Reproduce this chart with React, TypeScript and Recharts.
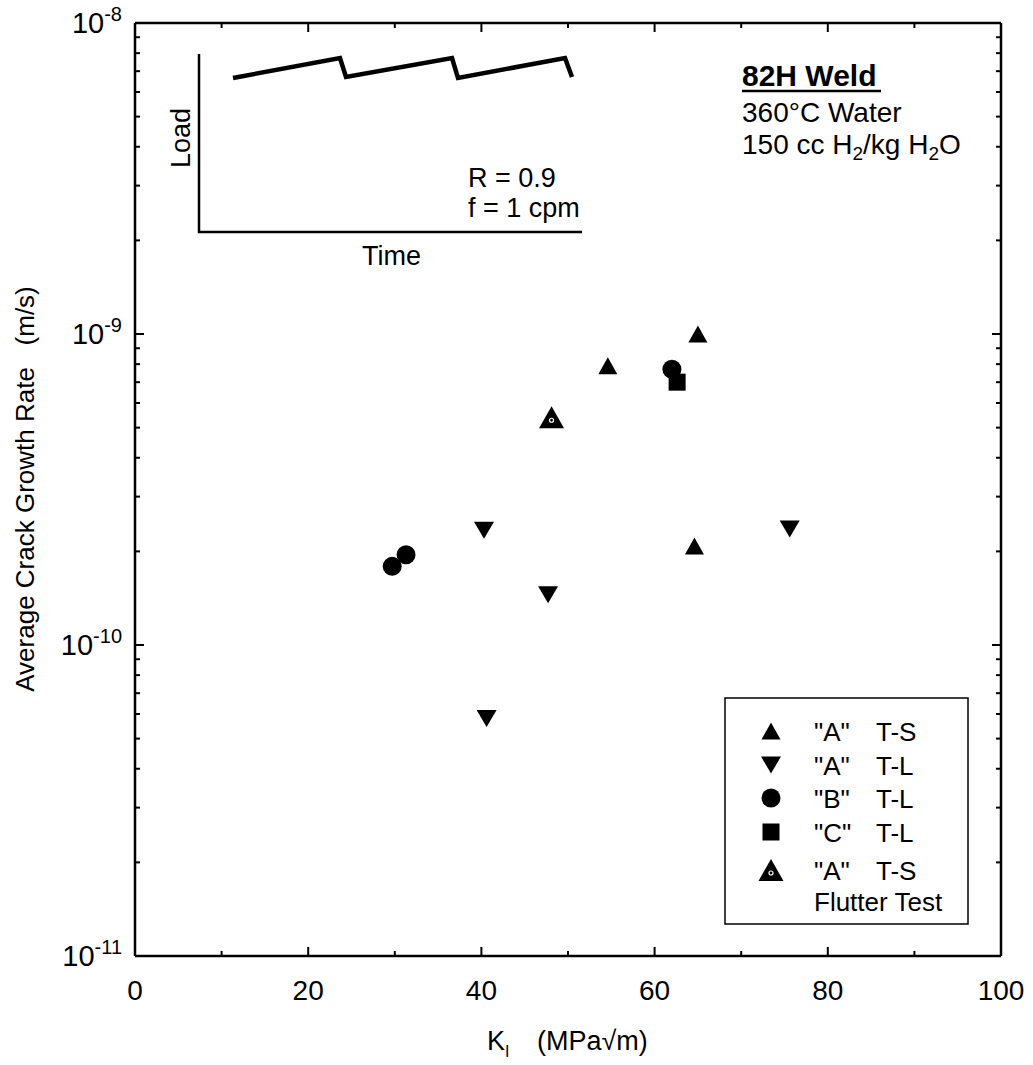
import React from "react";
import { ScatterChart, Scatter, XAxis, YAxis, Legend, Customized } from "recharts";

const W = 1033;
const H = 1065;
const FONT = "'Liberation Sans', Arial, Helvetica, sans-serif";

// K_I (MPa√m) vs average crack growth rate (m/s)
const aTS = [
  { k: 54.6, rate: 7.9e-10 },
  { k: 65.0, rate: 1.0e-9 },
  { k: 64.6, rate: 2.08e-10 },
];
const aTL = [
  { k: 40.3, rate: 2.34e-10 },
  { k: 47.7, rate: 1.45e-10 },
  { k: 40.6, rate: 5.8e-11 },
  { k: 75.6, rate: 2.36e-10 },
];
const bTL = [
  { k: 29.7, rate: 1.79e-10 },
  { k: 31.3, rate: 1.95e-10 },
  { k: 62.0, rate: 7.7e-10 },
];
const cTL = [{ k: 62.6, rate: 7.0e-10 }];
const aTSFlutter = [{ k: 48.1, rate: 5.4e-10 }];

const xMajor = [0, 20, 40, 60, 80, 100];
const xMinor = [10, 30, 50, 70, 90];
const decades = [-11, -10, -9, -8];
const minorMult = [2, 3, 4, 5, 6, 7, 8, 9];

const xTicks = [...xMajor, ...xMinor].sort((a, b) => a - b);
const yTicks = decades.flatMap((e) => [
  Math.pow(10, e),
  ...(e < -8 ? minorMult.map((m) => m * Math.pow(10, e)) : []),
]);

const isDecade = (v: number) => {
  const e = Math.round(Math.log10(v));
  return Math.abs(v / Math.pow(10, e) - 1) < 1e-6;
};

// marker paths
const upTri = (cx: number, cy: number, w: number, h: number) =>
  `M${cx},${cy - h / 2} L${cx + w / 2},${cy + h / 2} L${cx - w / 2},${cy + h / 2} Z`;
const downTri = (cx: number, cy: number, w: number, h: number) =>
  `M${cx - w / 2},${cy - h / 2} L${cx + w / 2},${cy - h / 2} L${cx},${cy + h / 2} Z`;

const UpMark = ({ cx, cy }: any) => <path d={upTri(cx, cy, 19, 17)} fill="#000" />;
const DownMark = ({ cx, cy }: any) => <path d={downTri(cx, cy, 20, 17)} fill="#000" />;
const CircleMark = ({ cx, cy }: any) => <circle cx={cx} cy={cy} r={9.5} fill="#000" />;
const SquareMark = ({ cx, cy }: any) => (
  <rect x={cx - 8.5} y={cy - 8.5} width={17} height={17} fill="#000" />
);
const FlutterMark = ({ cx, cy }: any) => (
  <g>
    <path d={upTri(cx, cy, 25, 22)} fill="#000" />
    <circle cx={cx} cy={cy + 3} r={2} fill="none" stroke="#fff" strokeWidth={1.2} />
  </g>
);

const tickLen = (major: boolean) => (major ? 9 : 5);

const BottomTick = ({ x, y, payload }: any) => {
  const major = xMajor.includes(payload.value);
  return (
    <g>
      <line x1={x} x2={x} y1={y} y2={y - tickLen(major)} stroke="#000" strokeWidth={2} />
      {major && (
        <text x={x} y={y + 44} textAnchor="middle" fontSize={28} fontFamily={FONT} fill="#000">
          {payload.value}
        </text>
      )}
    </g>
  );
};

const TopTick = ({ x, y, payload }: any) => {
  const major = xMajor.includes(payload.value);
  return <line x1={x} x2={x} y1={y} y2={y + tickLen(major)} stroke="#000" strokeWidth={2} />;
};

const LeftTick = ({ x, y, payload }: any) => {
  const major = isDecade(payload.value);
  const e = Math.round(Math.log10(payload.value));
  return (
    <g>
      <line x1={x} x2={x + tickLen(major)} y1={y} y2={y} stroke="#000" strokeWidth={2} />
      {major && (
        <text x={x - 13} y={y + 10} textAnchor="end" fontSize={29} fontFamily={FONT} fill="#000">
          10
          <tspan dy={-12} fontSize={20}>
            {`-${Math.abs(e)}`}
          </tspan>
        </text>
      )}
    </g>
  );
};

const RightTick = ({ x, y, payload }: any) => {
  const major = isDecade(payload.value);
  return <line x1={x} x2={x - tickLen(major)} y1={y} y2={y} stroke="#000" strokeWidth={2} />;
};

const legendRows = [
  { mark: "up", a: '"A"', b: "T-S" },
  { mark: "down", a: '"A"', b: "T-L" },
  { mark: "circle", a: '"B"', b: "T-L" },
  { mark: "square", a: '"C"', b: "T-L" },
  { mark: "flutter", a: '"A"', b: "T-S" },
];
const legendRowY = [34, 68, 101, 135, 173];

const LegendBox = () => (
  <svg width={245} height={228} style={{ display: "block" }}>
    <rect x={1} y={1} width={243} height={226} fill="#fff" stroke="#000" strokeWidth={1.5} />
    {legendRows.map((r, i) => {
      const cy = legendRowY[i];
      const cx = 47;
      let m: React.ReactNode = null;
      if (r.mark === "up") m = <UpMark cx={cx} cy={cy} />;
      if (r.mark === "down") m = <DownMark cx={cx} cy={cy} />;
      if (r.mark === "circle") m = <CircleMark cx={cx} cy={cy} />;
      if (r.mark === "square") m = <SquareMark cx={cx} cy={cy} />;
      if (r.mark === "flutter") m = <FlutterMark cx={cx} cy={cy} />;
      return (
        <g key={i}>
          {m}
          <text x={90} y={cy + 10} fontSize={26} fontFamily={FONT}>
            {r.a}
          </text>
          <text x={152} y={cy + 10} fontSize={26} fontFamily={FONT}>
            {r.b}
          </text>
        </g>
      );
    })}
    <text x={90} y={214} fontSize={26} fontFamily={FONT}>
      Flutter Test
    </text>
  </svg>
);

// inset sketch of the loading waveform plus the test notes
const Annotations = () => (
  <g fontFamily={FONT} fill="#000">
    <polyline points="199,54 199,232 582,232" fill="none" stroke="#000" strokeWidth={2.5} />
    <polyline
      points="233,78 340,58 346,77 452,58 458,78 565,58 572,77"
      fill="none"
      stroke="#000"
      strokeWidth={4.5}
    />
    <text x={190} y={138} transform="rotate(-90 190 138)" textAnchor="middle" fontSize={27}>
      Load
    </text>
    <text x={362} y={265} fontSize={27}>
      Time
    </text>
    <text x={468} y={187} fontSize={27}>
      R = 0.9
    </text>
    <text x={468} y={217} fontSize={27}>
      f = 1 cpm
    </text>

    <text x={742} y={86} fontSize={30} fontWeight="bold">
      82H Weld
    </text>
    <line x1={742} x2={881} y1={91} y2={91} stroke="#000" strokeWidth={2.5} />
    <text x={742} y={122} fontSize={28}>
      360°C Water
    </text>
    <text x={742} y={154} fontSize={28}>
      150 cc H<tspan dy={6} fontSize={19}>2</tspan>
      <tspan dy={-6}>/kg H</tspan>
      <tspan dy={6} fontSize={19}>2</tspan>
      <tspan dy={-6}>O</tspan>
    </text>

    <text x={34} y={489} transform="rotate(-90 34 489)" textAnchor="middle" fontSize={26}>
      Average Crack Growth Rate{"\u00A0\u00A0\u00A0"}(m/s)
    </text>
    <text x={487} y={1050} fontSize={27}>
      K
      <tspan dy={7} fontSize={16}>
        I
      </tspan>
      <tspan x={537} dy={-7}>
        (MPa√m)
      </tspan>
    </text>
  </g>
);

export default function App() {
  return (
    <div style={{ position: "absolute", left: 0, top: 0, width: W, height: H, background: "#fff" }}>
      <ScatterChart width={W} height={H} margin={{ top: 22, right: 31, bottom: 0, left: 0 }}>
        <XAxis
          xAxisId={0}
          type="number"
          dataKey="k"
          domain={[0, 100]}
          allowDataOverflow
          ticks={xTicks}
          interval={0}
          height={109}
          tickSize={0}
          tickMargin={0}
          tickLine={false}
          axisLine={{ stroke: "#000", strokeWidth: 2.5 }}
          tick={<BottomTick />}
        />
        <XAxis
          xAxisId="top"
          orientation="top"
          type="number"
          dataKey="k"
          domain={[0, 100]}
          allowDataOverflow
          ticks={xTicks}
          interval={0}
          height={1}
          tickSize={0}
          tickMargin={0}
          tickLine={false}
          axisLine={{ stroke: "#000", strokeWidth: 2.5 }}
          tick={<TopTick />}
        />
        <YAxis
          yAxisId={0}
          type="number"
          dataKey="rate"
          scale="log"
          domain={[1e-11, 1e-8]}
          allowDataOverflow
          ticks={yTicks}
          interval={0}
          width={135}
          tickSize={0}
          tickMargin={0}
          tickLine={false}
          axisLine={{ stroke: "#000", strokeWidth: 2.5 }}
          tick={<LeftTick />}
        />
        <YAxis
          yAxisId="right"
          orientation="right"
          type="number"
          dataKey="rate"
          scale="log"
          domain={[1e-11, 1e-8]}
          allowDataOverflow
          ticks={yTicks}
          interval={0}
          width={1}
          tickSize={0}
          tickMargin={0}
          tickLine={false}
          axisLine={{ stroke: "#000", strokeWidth: 2.5 }}
          tick={<RightTick />}
        />
        <Customized component={Annotations} />
        <Scatter name='"A" T-S' data={aTS} shape={UpMark} isAnimationActive={false} />
        <Scatter name='"A" T-L' data={aTL} shape={DownMark} isAnimationActive={false} />
        <Scatter name='"B" T-L' data={bTL} shape={CircleMark} isAnimationActive={false} />
        <Scatter name='"C" T-L' data={cTL} shape={SquareMark} isAnimationActive={false} />
        <Scatter
          name='"A" T-S Flutter Test'
          data={aTSFlutter}
          shape={FlutterMark}
          isAnimationActive={false}
        />
        <Legend
          layout="vertical"
          align="center"
          verticalAlign="middle"
          wrapperStyle={{ left: 724, top: 697, width: 245, height: 228 }}
          content={() => <LegendBox />}
        />
      </ScatterChart>
    </div>
  );
}
